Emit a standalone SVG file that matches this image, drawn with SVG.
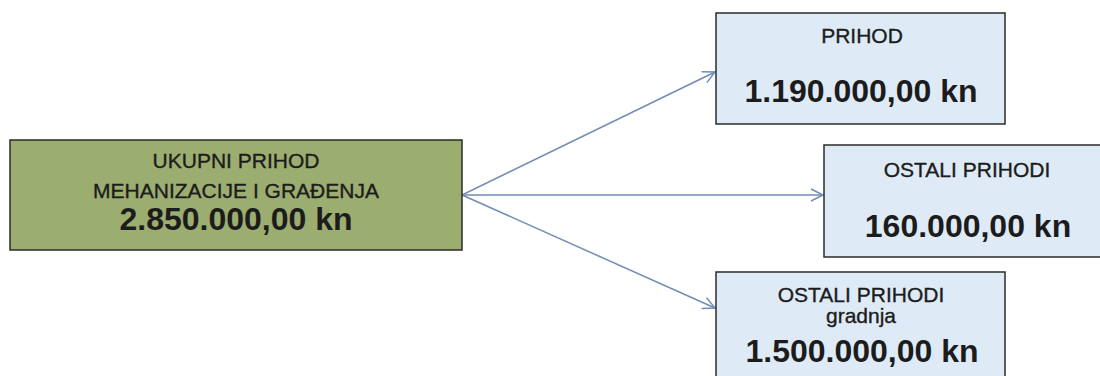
<svg xmlns="http://www.w3.org/2000/svg" width="1100" height="376" viewBox="0 0 1100 376">
<style>
.box{stroke:#2b2b2b;stroke-width:1.5}
.green{fill:#9cad70}
.blue{fill:#deebf7}
.t{font-family:"Liberation Sans",Arial,sans-serif;fill:#1c1c1c;text-anchor:middle}
.s{font-size:21px;stroke:#1c1c1c;stroke-width:0.35}
.b{font-size:32px;font-weight:bold}
.c{fill:none;stroke:#6f8db5;stroke-width:1.5}
</style>
<defs>
<marker id="ah" markerUnits="userSpaceOnUse" markerWidth="16" markerHeight="16" refX="13" refY="7" orient="auto">
<path d="M1,1 L13,7 L1,13" fill="none" stroke="#6f8db5" stroke-width="1.5"/>
</marker>
</defs>
<rect width="1100" height="376" fill="#ffffff"/>
<g id="connectors">
<line class="c" x1="462" y1="195" x2="715" y2="72" marker-end="url(#ah)"/>
<line class="c" x1="462" y1="195" x2="823" y2="195" marker-end="url(#ah)"/>
<line class="c" x1="462" y1="195" x2="715" y2="308" marker-end="url(#ah)"/>
</g>
<g id="ukupni">
<rect class="box green" x="10" y="140" width="452" height="110"/>
<text class="t s" x="236" y="168">UKUPNI PRIHOD</text>
<text class="t s" x="236" y="198">MEHANIZACIJE I GRAĐENJA</text>
<text class="t b" x="236" y="230">2.850.000,00 kn</text>
</g>
<g id="prihod">
<rect class="box blue" x="716" y="13" width="289" height="111"/>
<text class="t s" x="862" y="43">PRIHOD</text>
<text class="t b" x="861" y="102">1.190.000,00 kn</text>
</g>
<g id="ostali">
<rect class="box blue" x="824" y="145" width="290" height="112"/>
<text class="t s" x="967" y="177">OSTALI PRIHODI</text>
<text class="t b" x="968" y="237">160.000,00 kn</text>
</g>
<g id="gradnja">
<rect class="box blue" x="716" y="272" width="289" height="120"/>
<text class="t s" x="861" y="302">OSTALI PRIHODI</text>
<text class="t s" x="861" y="323">gradnja</text>
<text class="t b" x="862" y="362">1.500.000,00 kn</text>
</g>
</svg>
